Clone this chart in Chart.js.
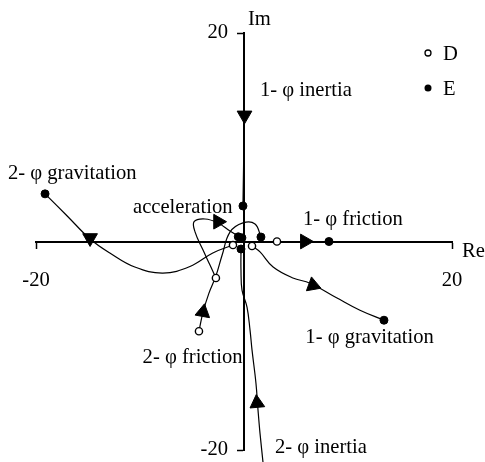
<!DOCTYPE html>
<html>
<head>
<meta charset="utf-8">
<script src="https://cdn.jsdelivr.net/npm/chart.js@4"></script>
<style>
  html, body { margin: 0; padding: 0; background: #fff; }
  #wrap { width: 485px; height: 462px; }
</style>
</head>
<body>
<div id="wrap"><canvas id="c" width="485" height="462"></canvas></div>
<script>
// Root-locus style trajectories in the complex plane (Re, Im)
const X_TICKS = [-20, 20];
const Y_TICKS = [-20, 20];

const inertia1 = [{x: 0, y: 20}, {x: 0, y: 11}, {x: -0.1, y: 3.41}];
const friction1 = [{x: 0, y: 0}, {x: 3.17, y: 0}, {x: 5.85, y: 0}, {x: 8.17, y: 0}];
const gravitation1 = [
  {x: 0.77, y: -0.43}, {x: 1.54, y: -1.0}, {x: 2.8, y: -2.45}, {x: 4.7, y: -3.5},
  {x: 6.35, y: -4.0}, {x: 8.9, y: -5.4}, {x: 11.15, y: -6.6}, {x: 13.46, y: -7.55}
];
const gravitation2 = [
  {x: -19.13, y: 4.57}, {x: -17.0, y: 2.45}, {x: -14.8, y: 0.24}, {x: -12.9, y: -1.1},
  {x: -10.5, y: -2.45}, {x: -7.8, y: -3.03}, {x: -5.2, y: -2.4},
  {x: -3.0, y: -1.1}, {x: -1.06, y: -0.34}
];
const acceleration = [
  {x: -0.38, y: 0.43}, {x: -1.35, y: 1.0}, {x: -2.5, y: 1.78}, {x: -3.75, y: 2.16},
  {x: -4.8, y: 1.9}, {x: -4.7, y: 0.9}, {x: -3.94, y: -0.82}, {x: -3.27, y: -2.26},
  {x: -2.7, y: -3.5}
];
const friction2 = [
  {x: -4.33, y: -8.61}, {x: -3.94, y: -6.78}, {x: -3.37, y: -4.95}, {x: -2.7, y: -3.3},
  {x: -2.1, y: -1.3}, {x: -1.35, y: 0.9}, {x: -0.1, y: 1.78}, {x: 1.06, y: 1.68},
  {x: 1.63, y: 0.43}
];
const inertia2 = [
  {x: -0.29, y: -0.72}, {x: -0.29, y: -2.74}, {x: -0.19, y: -4.66}, {x: 0.29, y: -6.3},
  {x: 0.58, y: -8.5}, {x: 0.77, y: -10.4}, {x: 1.15, y: -13.6}, {x: 1.35, y: -16.2},
  {x: 1.54, y: -18.4}, {x: 1.83, y: -21.2}
];

// Roots for the two cases: D (open) and E (filled)
const pointsD = [
  {x: -1.06, y: -0.34}, {x: 0.77, y: -0.43}, {x: 3.17, y: 0}, {x: -2.7, y: -3.5}, {x: -4.33, y: -8.61}
];
const pointsE = [
  {x: -0.1, y: 3.41}, {x: -0.55, y: 0.45}, {x: -0.2, y: 0.35}, {x: -0.29, y: -0.72},
  {x: 1.63, y: 0.43}, {x: 8.17, y: 0}, {x: 13.46, y: -7.55}, {x: -19.13, y: 4.57}
];

// Direction arrows along each trajectory (rotation in degrees, 0 = pointing up)
const arrowPoints = [
  {x: 0.05, y: 12.1}, {x: 5.85, y: 0}, {x: 6.63, y: -4.2}, {x: -14.8, y: 0.34},
  {x: -2.5, y: 1.9}, {x: -3.94, y: -6.78}, {x: 1.25, y: -15.5}
];
const arrowRotation = [180, 90, -10, 180, -30, 10, -5];

// Curve names, placed by (Re, Im) of the left end of the text baseline
const curveLabels = [
  {text: '1- φ inertia', x: 1.54, y: 14.0},
  {text: '2- φ gravitation', x: -22.7, y: 6.0},
  {text: 'acceleration', x: -10.67, y: 2.74},
  {text: '1- φ friction', x: 5.67, y: 1.59},
  {text: '1- φ gravitation', x: 5.9, y: -9.75},
  {text: '2- φ friction', x: -9.75, y: -11.68},
  {text: '2- φ inertia', x: 2.98, y: -20.3}
];
const axisNames = [
  {text: 'Re', x: 20.96, y: -1.49},
  {text: 'Im', x: 0.38, y: 20.8}
];
const legendItems = [
  {label: 'D', filled: false},
  {label: 'E', filled: true}
];

const FONT = '"Liberation Serif", "Times New Roman", serif';
const FONT_SIZE = 20.6;

function curve(data) {
  return {
    type: 'line', data, showLine: true, fill: false, clip: false,
    borderColor: '#000', borderWidth: 1.2, tension: 0.4,
    pointRadius: 0, order: 3
  };
}

// keep the plot square regardless of tick label sizes
function noScalePadding(s) {
  s.paddingLeft = 0; s.paddingRight = 0; s.paddingTop = 0; s.paddingBottom = 0;
}

const textPlugin = {
  id: 'planeText',
  afterDraw(chart) {
    const {ctx, scales: {x, y}} = chart;
    ctx.save();
    ctx.fillStyle = '#000';
    ctx.font = FONT_SIZE + 'px ' + FONT;
    ctx.textAlign = 'left';
    ctx.textBaseline = 'alphabetic';
    for (const l of curveLabels.concat(axisNames)) {
      ctx.fillText(l.text, x.getPixelForValue(l.x), y.getPixelForValue(l.y));
    }
    // legend in the upper right corner
    legendItems.forEach((it, i) => {
      const mx = chart.chartArea.right - 24;
      const my = chart.chartArea.top + 20 + i * 35;
      ctx.beginPath();
      ctx.arc(mx, my, it.filled ? 3.5 : 3, 0, Math.PI * 2);
      ctx.lineWidth = 1.3;
      ctx.strokeStyle = '#000';
      if (it.filled) ctx.fill(); else ctx.stroke();
      ctx.fillText(it.label, mx + 15, my + 7);
    });
    ctx.restore();
  }
};

new Chart(document.getElementById('c'), {
  type: 'scatter',
  data: {
    datasets: [
      {data: pointsE, pointStyle: 'circle', pointRadius: 4, backgroundColor: '#000', borderColor: '#000', borderWidth: 1, order: 1, clip: false},
      {data: pointsD, pointStyle: 'circle', pointRadius: 3.6, backgroundColor: '#fff', borderColor: '#000', borderWidth: 1.4, order: 1, clip: false},
      {data: arrowPoints, pointStyle: 'triangle', pointRadius: 8.5, backgroundColor: '#000', borderColor: '#000', borderWidth: 1,
       rotation: ctx => arrowRotation[ctx.dataIndex] || 0, order: 2, clip: false},
      curve(inertia1), curve(friction1), curve(gravitation1), curve(gravitation2),
      curve(acceleration), curve(friction2), curve(inertia2)
    ]
  },
  options: {
    responsive: false,
    animation: false,
    events: [],
    layout: {padding: {left: 36, right: 33, top: 33, bottom: 12}},
    plugins: {legend: {display: false}, tooltip: {enabled: false}},
    scales: {
      x: {
        type: 'linear', min: -20, max: 20, position: 'center',
        afterBuildTicks: s => { s.ticks = X_TICKS.map(v => ({value: v})); },
        afterFit: noScalePadding,
        grid: {drawOnChartArea: false, drawTicks: true, tickLength: 6, tickWidth: 1.5, tickColor: '#000'},
        border: {display: true, color: '#000', width: 2},
        ticks: {color: '#000', font: {family: FONT, size: FONT_SIZE}, padding: 21, maxRotation: 0, autoSkip: false,
                callback: v => String(v)}
      },
      y: {
        type: 'linear', min: -20, max: 20, position: 'center',
        afterBuildTicks: s => { s.ticks = Y_TICKS.map(v => ({value: v})); },
        afterFit: noScalePadding,
        grid: {drawOnChartArea: false, drawTicks: true, tickLength: 6, tickWidth: 1.5, tickColor: '#000'},
        border: {display: true, color: '#000', width: 2},
        ticks: {color: '#000', font: {family: FONT, size: FONT_SIZE}, padding: 10, autoSkip: false,
                callback: v => String(v)}
      }
    }
  },
  plugins: [textPlugin]
});
</script>
</body>
</html>
